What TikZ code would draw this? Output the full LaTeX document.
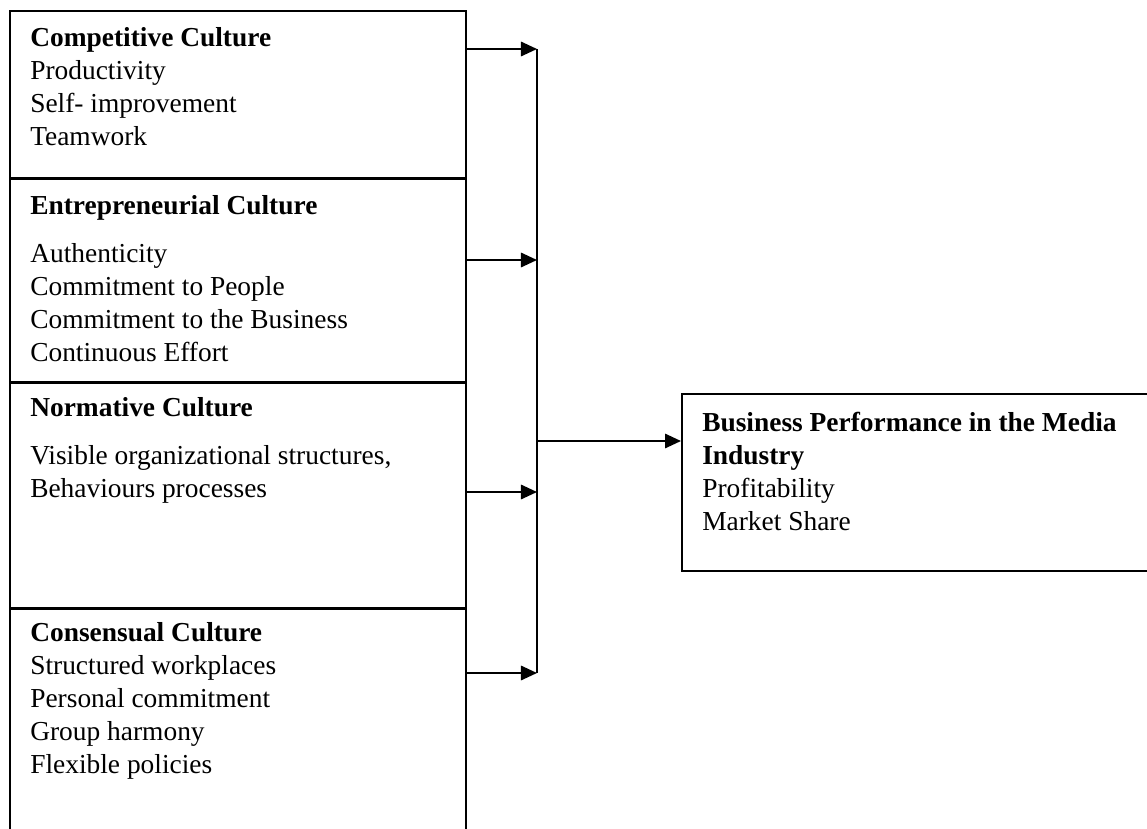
\documentclass[tikz,border=0pt]{standalone}
\usepackage{fontspec}
\setmainfont{Liberation Serif}
\usetikzlibrary{arrows.meta}

\tikzset{
  sect/.style={draw, line width=1.2pt, rectangle, anchor=north west,
               inner sep=0pt, minimum width=11.4cm},
  body/.style={anchor=north west, inner sep=0pt, align=left,
               font=\fontsize{19.5}{23.5}\selectfont},
  feed/.style={line width=1.4pt, -{Triangle[length=4mm,width=3.6mm]}},
}

\begin{document}
\begin{tikzpicture}[x=0.025cm, y=-0.025cm]
  \useasboundingbox (0,0) rectangle (1147,829);
  \clip (0,0) rectangle (1147,829);

  % the four culture blocks, stacked; the last one runs off the page
  \node[sect, minimum height=4.175cm] (comp) at (9,10) {};
  \node[sect, minimum height=5.05cm] (entr) at (comp.south west) {};
  \node[sect, minimum height=5.6cm] (norm) at (entr.south west) {};
  \node[sect, minimum height=6.5cm] (cons) at (norm.south west) {};
  % outcome box, open to the right
  \node[sect, minimum width=12cm, minimum height=4.425cm] (perf) at (681,393) {};

  \node[body] (comp-txt) at (30,27) {\textbf{Competitive Culture}\\
    Productivity\\Self- improvement\\Teamwork};
  \node[body] (entr-txt) at (30,195) {\textbf{Entrepreneurial Culture}\\[11pt]
    Authenticity\\Commitment to People\\Commitment to the Business\\
    Continuous Effort};
  \node[body] (norm-txt) at (30,397) {\textbf{Normative Culture}\\[11pt]
    Visible organizational structures,\\Behaviours processes};
  \node[body] (cons-txt) at (30,622) {\textbf{Consensual Culture}\\
    Structured workplaces\\Personal commitment\\Group harmony\\
    Flexible policies};
  \node[body] (perf-txt) at (702,412) {\textbf{Business Performance in the Media}\\
    \textbf{Industry}\\Profitability\\Market Share};

  % collecting bar
  \coordinate (in1) at (537,49);
  \coordinate (in2) at (537,260);
  \coordinate (in3) at (537,492);
  \coordinate (in4) at (537,673);
  \coordinate (out) at (537,441);
  \draw[line width=1.4pt] (in1) -- (in4);

  \draw[feed] (comp.east |- in1) -- (in1);
  \draw[feed] (entr.east |- in2) -- (in2);
  \draw[feed] (norm.east |- in3) -- (in3);
  \draw[feed] (cons.east |- in4) -- (in4);
  \draw[feed] (out) -- (perf.west |- out);
\end{tikzpicture}
\end{document}
